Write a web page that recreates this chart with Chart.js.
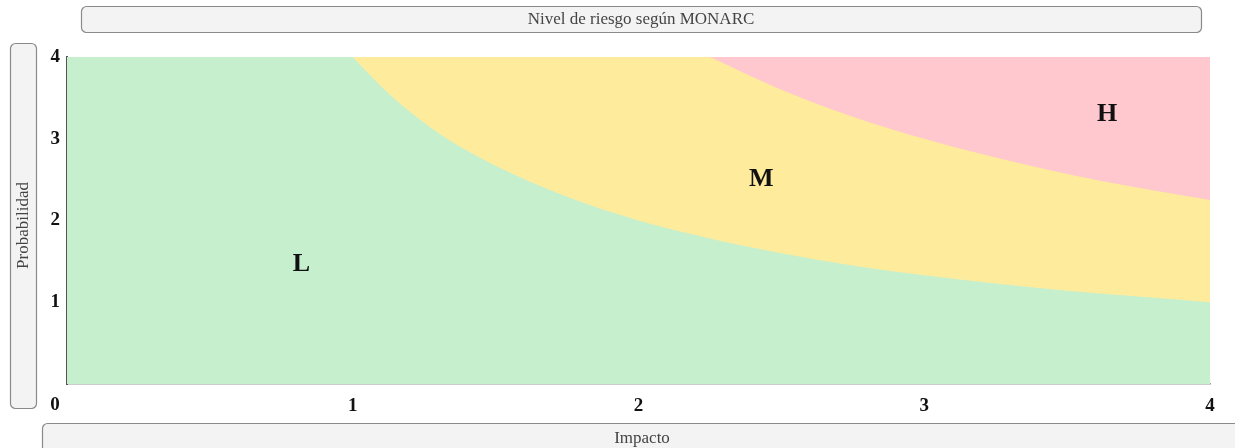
<!DOCTYPE html>
<html>
<head>
<meta charset="utf-8">
<script src="https://cdn.jsdelivr.net/npm/chart.js@4/dist/chart.umd.min.js"></script>
<style>
    html, body { margin: 0; padding: 0; background: #ffffff; }
    #riskChart { display: block; }
</style>
</head>
<body>
<canvas id="riskChart" width="1235" height="448"></canvas>
<script>
// ejes
const axisMin = 0;
const axisMax = 4;
const tickValues = [0, 1, 2, 3, 4];

// frontera L / M
const lowBoundaryX = [1, 1.1, 1.2, 1.33, 1.5, 1.75, 2, 2.25, 2.5, 2.75, 3, 3.25, 3.5, 3.75, 4];
const lowBoundaryY = [4, 3.64, 3.33, 3.0, 2.67, 2.29, 2.0, 1.78, 1.6, 1.45, 1.33, 1.23, 1.14, 1.07, 1.0];

// frontera M / H
const highBoundaryX = [2.25, 2.5, 2.75, 3, 3.25, 3.5, 3.75, 4];
const highBoundaryY = [4, 3.6, 3.27, 3.0, 2.77, 2.57, 2.4, 2.25];

// etiquetas de zona
const zoneLabels = ['L', 'M', 'H'];
const zoneLabelX = [0.82, 2.43, 3.64];
const zoneLabelY = [1.46, 2.5, 3.3];

const titleText = 'Nivel de riesgo según MONARC';
const xTitleText = 'Impacto';
const yTitleText = 'Probabilidad';

const toPoints = (xs, ys) => xs.map((x, i) => ({ x: x, y: ys[i] }));

/**
 * caja redondeada con texto
 */
const drawBox = function (ctx, x, y, w, h, text, rotate) {
    ctx.save();
    ctx.beginPath();
    ctx.roundRect(x + 0.5, y + 0.5, w, h, 5);
    ctx.fillStyle = '#f3f3f3';
    ctx.fill();
    ctx.lineWidth = 1.2;
    ctx.strokeStyle = '#8a8a8a';
    ctx.stroke();
    ctx.fillStyle = '#444444';
    ctx.font = '17px "Liberation Serif", serif';
    ctx.textAlign = 'center';
    ctx.textBaseline = 'middle';
    ctx.translate(x + w / 2, y + h / 2);
    if (rotate) {
        ctx.rotate(-Math.PI / 2);
    }
    ctx.fillText(text, 0, 1);
    ctx.restore();
};

const decorPlugin = {
    id: 'decor',
    afterDraw(chart) {
        const ctx = chart.ctx;
        const xs = chart.scales.x;
        const ys = chart.scales.y;

        drawBox(ctx, 81, 6, 1120, 26, titleText, false);
        drawBox(ctx, 10, 43, 26, 365, yTitleText, true);
        drawBox(ctx, 42, 423, 1200, 30, xTitleText, false);

        // "0" en la esquina
        ctx.save();
        ctx.fillStyle = '#111111';
        ctx.font = 'bold 19px "Liberation Serif", serif';
        ctx.textAlign = 'center';
        ctx.textBaseline = 'middle';
        ctx.fillText('0', xs.getPixelForValue(0) - 12, ys.getPixelForValue(0) + 21);

        // letras de zona
        ctx.font = 'bold 26px "Liberation Serif", serif';
        zoneLabels.forEach((label, i) => {
            ctx.fillText(label, xs.getPixelForValue(zoneLabelX[i]), ys.getPixelForValue(zoneLabelY[i]));
        });
        ctx.restore();
    }
};

const tickFont = { family: '"Liberation Serif", serif', size: 19, weight: 'bold' };

new Chart(document.getElementById('riskChart'), {
    type: 'line',
    data: {
        datasets: [
            {
                label: 'H',
                data: toPoints(highBoundaryX, highBoundaryY),
                backgroundColor: '#ffc7ce',
                borderWidth: 0,
                pointRadius: 0,
                fill: 'end',
                cubicInterpolationMode: 'monotone',
                order: 1,
            },
            {
                label: 'M',
                data: toPoints(lowBoundaryX, lowBoundaryY),
                backgroundColor: '#ffeb9c',
                borderWidth: 0,
                pointRadius: 0,
                fill: 'end',
                cubicInterpolationMode: 'monotone',
                order: 2,
            },
            {
                label: 'L',
                data: toPoints([axisMin, axisMax], [axisMax, axisMax]),
                backgroundColor: '#c6efce',
                borderWidth: 0,
                pointRadius: 0,
                fill: 'origin',
                order: 3,
            },
        ],
    },
    options: {
        responsive: false,
        animation: false,
        layout: {
            padding: { top: 57, right: 25, left: 0, bottom: 0 },
        },
        plugins: {
            legend: { display: false },
            tooltip: { enabled: false },
            title: { display: false },
        },
        scales: {
            x: {
                type: 'linear',
                min: axisMin,
                max: axisMax,
                z: 1,
                afterFit: scale => { scale.height = 64; },
                afterBuildTicks: scale => { scale.ticks = tickValues.map(v => ({ value: v })); },
                grid: { display: false, drawTicks: false },
                border: { display: true, color: '#999999', width: 1.5 },
                ticks: {
                    color: '#111111',
                    font: tickFont,
                    padding: 11,
                    maxRotation: 0,
                    callback: v => v === 0 ? '' : String(v),
                },
            },
            y: {
                type: 'linear',
                min: axisMin,
                max: axisMax,
                z: 1,
                afterFit: scale => { scale.width = 67; },
                afterBuildTicks: scale => { scale.ticks = tickValues.map(v => ({ value: v })); },
                grid: { display: false, drawTicks: false },
                border: { display: true, color: '#555555', width: 2 },
                ticks: {
                    color: '#111111',
                    font: tickFont,
                    padding: 7,
                    callback: v => v === 0 ? '' : String(v),
                },
            },
        },
    },
    plugins: [decorPlugin],
});
</script>
</body>
</html>
